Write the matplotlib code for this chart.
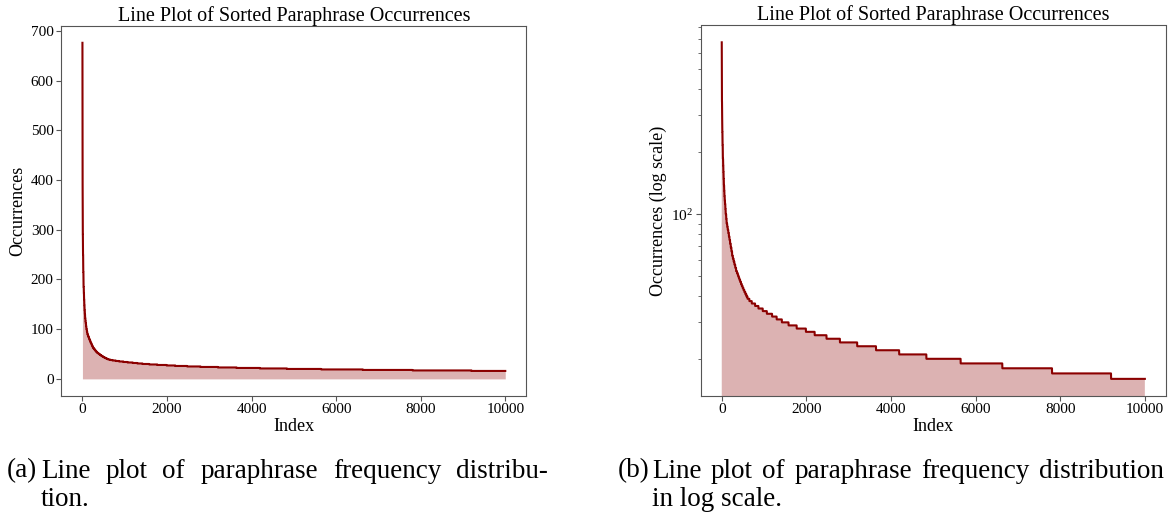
import numpy as np
import matplotlib
matplotlib.use('Agg')
import matplotlib.pyplot as plt

# sorted paraphrase occurrence counts, run-length coded:
# each level is an occurrence value, the matching end is the index where it stops
head_levels = [676, 520, 450, 390, 350, 310, 290, 265, 250, 230, 215, 200, 185, 172,
               160, 148, 138, 130, 122, 116, 112, 106, 100, 95, 90, 87, 84, 81, 78, 75,
               72, 69, 66, 63, 61, 59, 57, 55, 53, 52, 51, 50, 49, 48, 47, 46, 45, 44,
               43, 42, 41, 40]
head_ends = [1, 2, 4, 5, 7, 9, 11, 14, 17, 20, 24, 27, 32, 37,
             43, 49, 56, 62, 70, 76, 84, 92, 104, 114, 128, 140, 154, 168, 182, 196,
             212, 228, 244, 262, 280, 298, 318, 338, 360, 374, 388, 404, 420, 436, 454, 472, 492, 512,
             534, 558, 582, 608]
tail_levels = [39, 38, 37, 36, 35, 34, 33, 32, 31, 30, 29, 28, 27, 26, 25, 24,
               23, 22, 21, 20, 19, 18, 17, 16]
tail_ends = [652, 709, 787, 866, 968, 1065, 1189, 1297, 1420, 1578, 1770, 1988, 2195, 2475, 2792, 3200,
             3645, 4192, 4835, 5645, 6630, 7805, 9200, 10000]

title = 'Line Plot of Sorted Paraphrase Occurrences'
caption_a = ['Line', 'plot', 'of', 'paraphrase', 'frequency', 'distribu-']
caption_a2 = 'tion.'
caption_b = ['Line', 'plot', 'of', 'paraphrase', 'frequency', 'distribution']
caption_b2 = 'in log scale.'

plt.rcParams['font.family'] = 'serif'
plt.rcParams['font.serif'] = ['Liberation Serif', 'DejaVu Serif']
plt.rcParams['mathtext.fontset'] = 'stix'

levels = np.array(head_levels + tail_levels)
ends = np.array(head_ends + tail_ends)
counts = np.diff(np.concatenate([[0], ends]))
occ = np.repeat(levels, counts)
idx = np.arange(len(occ))

W, H = 1168, 515
fig = plt.figure(figsize=(W / 100, H / 100), dpi=100)

def axes_px(x0, y0, x1, y1):
    return fig.add_axes([x0 / W, 1 - y1 / H, (x1 - x0) / W, (y1 - y0) / H])

ax1 = axes_px(61.3, 26, 526.4, 395.7)
ax2 = axes_px(700.6, 25.5, 1166, 395.7)

for ax in (ax1, ax2):
    ax.fill_between(idx, occ, color='darkred', alpha=0.3, linewidth=0)
    ax.plot(idx, occ, color='darkred', lw=1.5)
    ax.set_title(title, fontsize=14.5, pad=3)
    ax.set_xlabel('Index', fontsize=13, labelpad=1)
    ax.tick_params(labelsize=11, color='#555555', pad=2)
    ax.tick_params(which='minor', color='#555555')
    for s in ax.spines.values():
        s.set_color('#555555')
    ax.set_xticks([0, 2000, 4000, 6000, 8000, 10000])

ax1.set_ylabel('Occurrences', fontsize=13, labelpad=3)
ax2.set_yscale('log')
ax2.set_ylabel('Occurrences (log scale)', fontsize=13, labelpad=3)

cs = 19.5
y1 = 1 - 471 / H
y2 = 1 - 499 / H
fig.text(7 / W, y1, '(a)', fontsize=cs, va='center', ha='left')
fig.text(41 / W, y2, caption_a2, fontsize=cs, va='center', ha='left')
fig.text(618 / W, y1, '(b)', fontsize=cs, va='center', ha='left')
fig.text(652 / W, y2, caption_b2, fontsize=cs, va='center', ha='left')

# justified first caption lines, like the typeset figure
renderer = fig.canvas.get_renderer()

def justify(words, left, right):
    texts = [fig.text(0, y1, w, fontsize=cs, va='center', ha='left') for w in words]
    widths = [t.get_window_extent(renderer).width for t in texts]
    gap = (right - left - sum(widths)) / (len(texts) - 1)
    x = left
    for t, w in zip(texts, widths):
        t.set_x(x / W)
        x += w + gap

justify(caption_a, 41, 548)
justify(caption_b, 652, 1164)

fig.savefig('out.png', dpi=100)
